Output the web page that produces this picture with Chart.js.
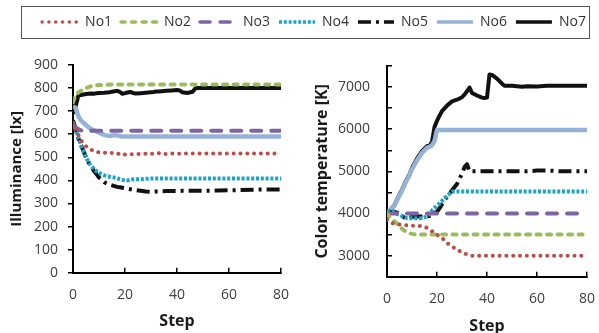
<!DOCTYPE html>
<html><head><meta charset="utf-8">
<script src="https://cdn.jsdelivr.net/npm/chart.js@4"></script>
<style>
body{margin:0;width:599px;height:333px;overflow:hidden;background:#fff;position:relative;font-family:'Open Sans',sans-serif}
canvas{position:absolute}
#lgbox{position:absolute;left:21px;top:6px;width:569px;height:33px;border:1px solid #555;box-sizing:border-box}
</style></head>
<body>
<div id="lgbox"></div>
<canvas id="lg" width="570" height="40" style="left:29px;top:6px"></canvas>
<canvas id="c1" width="300" height="293" style="left:0;top:40px"></canvas>
<canvas id="c2" width="299" height="296" style="left:300px;top:40px"></canvas>
<script>
const seriesNames = ['No1','No2','No3','No4','No5','No6','No7'];
const steps = [0,1,2,3,4,5,6,7,8,9,10,12,14,16,17,18,19,20,21,22,24,26,28,30,31,32,33,34,36,38,39,40,41,42,44,46,47,48,50,54,56,60,64,70,80];

// Illuminance [lx]
const illumNo1 = [650,625,598,575,560,548,540,533,528,524,521, 520,518,520, 518,512,510,512,512,513, 514,515,516,515, 516,518,518,514, 515,516,516,515,516,516, 516,516,516,516,516, 516,516,516,516,516,516];
const illumNo2 = [740,770,780,788,795,800,804,808,810,812,813, 814,815,815, 815,815,815,815,815,815, 815,815,815,815, 815,815,815,815, 815,815,815,815,815,815, 815,815,815,815,815, 815,815,815,815,815,815];
const illumNo3 = [640,630,622,617,615,615,615,615,615,615,615, 615,615,615, 615,615,615,615,615,615, 615,615,615,615, 615,615,615,615, 615,615,615,615,615,615, 615,615,615,615,615, 615,615,615,615,615,615];
const illumNo4 = [650,620,585,555,525,500,478,462,450,440,432, 422,416,412, 410,405,402,400,400,403, 405,405,407,408, 408,408,408,408, 408,408,408,408,408,408, 408,408,408,408,408, 408,408,408,408,408,408];
const illumNo5 = [660,625,585,555,528,500,478,458,442,428,412, 392,382,375, 372,370,368,366,364,362, 358,355,352,350, 351,352,352,353, 354,354,354,354,354,355, 355,355,355,355,355, 356,356,357,358,360,360];
const illumNo6 = [720,715,680,660,650,640,630,622,617,612,607, 597,592,596, 595,592,590,590,590,590, 590,590,590,590, 590,590,590,590, 590,590,590,590,590,590, 590,590,590,590,590, 590,590,590,590,590,590];
const illumNo7 = [690,720,765,770,772,774,775,776,775,778,779, 780,782,786, 788,784,775,778,781,783, 776,778,780,782, 783,785,785,786, 788,790,791,792,790,782, 779,784,798,800,800, 800,800,800,800,800,800];

// Color temperature [K]
const ctNo1 = [3850,3800,3770,3760,3750,3740,3730,3725,3720,3715,3710, 3705,3700,3660, 3620,3580,3540,3500,3460,3420, 3300,3220,3140,3080, 3050,3030,3010,3000, 3000,3000,3000,3000,3000,3000, 3000,3000,3000,3000,3000, 3000,3000,3000,3000,3000,3000];
const ctNo2 = [4000,3920,3870,3810,3760,3700,3640,3590,3550,3530,3515, 3505,3500,3500, 3500,3500,3500,3500,3500,3500, 3500,3500,3500,3500, 3500,3500,3500,3500, 3500,3500,3500,3500,3500,3500, 3500,3500,3500,3500,3500, 3500,3500,3500,3500,3500,3500];
const ctNo3 = [4000,4000,4000,4000,4000,4000,4000,4000,4000,4000,4000, 4000,4000,4000, 4000,4000,4000,4000,4000,4000, 4000,4000,4000,4000, 4000,4000,4000,4000, 4000,4000,4000,4000,4000,4000, 4000,4000,4000,4000,4000, 4000,4000,4000,4000,4000,4000];
const ctNo4 = [4050,4060,4050,4020,3990,3970,3940,3910,3890,3885,3885, 3885,3890,3930, 4000,4070,4130,4190,4240,4300, 4420,4520,4520,4520, 4520,4520,4520,4520, 4520,4520,4520,4520,4520,4520, 4520,4520,4520,4520,4520, 4520,4520,4520,4520,4520,4520];
const ctNo5 = [3950,4020,4040,4040,4020,3980,3940,3900,3880,3900,3920, 3930,3930,3930, 3940,3970,4010,4040,4120,4220, 4400,4550,4700,4950, 5100,5170,5000,5000, 5000,5000,5000,5000,5000,5000, 5000,5000,5000,5000,5000, 5000,5000,5020,5020,5000,5000];
const ctNo6 = [3950,4050,4120,4190,4310,4430,4540,4680,4800,4910,5050, 5260,5440,5560, 5580,5620,5720,5980,5980,5980, 5980,5980,5980,5980, 5980,5980,5980,5980, 5980,5980,5980,5980,5980,5980, 5980,5980,5980,5980,5980, 5980,5980,5980,5980,5980,5980];
const ctNo7 = [3930,4050,4130,4200,4330,4450,4560,4700,4820,4930,5080, 5300,5480,5600, 5605,5700,6050,6200,6320,6430, 6560,6660,6700,6760, 6820,6900,6990,6860, 6800,6750,6740,6750,7300,7290, 7200,7080,7030,7030,7030, 7010,7020,7015,7030,7030,7030];

const illumTicks = {min:0, max:900, step:100};
const ctTicks = {min:2500, max:7500, step:500, labelEvery:1000};
const stepTicks = {min:0, max:80, step:20};

const styles = [
  {borderColor:'#BE4B48', borderWidth:4, borderDash:[0.01,6.8], borderCapStyle:'round'},
  {borderColor:'#9BBB59', borderWidth:4, borderDash:[4,6.5], borderCapStyle:'round'},
  {borderColor:'#8064A2', borderWidth:4, borderDash:[10,10], borderCapStyle:'round'},
  {borderColor:'#1AA3CC', borderWidth:4, borderDash:[3,1.8], borderCapStyle:'butt'},
  {borderColor:'#111111', borderWidth:4, borderDash:[13,5,3,5], borderCapStyle:'butt'},
  {borderColor:'#95B3D7', borderWidth:4.5, borderDash:[], borderCapStyle:'butt'},
  {borderColor:'#111111', borderWidth:4, borderDash:[], borderCapStyle:'butt'}
];

const FONT = "'Open Sans', sans-serif";
Chart.defaults.font.family = FONT;

function makeDatasets(list){
  return list.map((vals, i) => Object.assign({
    label: seriesNames[i],
    data: steps.map((s, k) => ({x: s, y: vals[k]})),
    pointRadius: 0, tension: 0, fill: false, borderJoinStyle:'round'
  }, styles[i]));
}

function axisCommon(tl){
  return {
    border:{display:true, color:'#000', width:2},
    grid:{drawOnChartArea:false, drawTicks:true, tickLength:tl, color:'#000', lineWidth:1.5},
  };
}

function makeChart(id, datasets, yCfg, opts){
  return new Chart(document.getElementById(id), {
    type:'line',
    data:{datasets},
    options:{
      responsive:false, animation:false, devicePixelRatio:1,
      layout:{padding:opts.padding},
      plugins:{legend:{display:false}, tooltip:{enabled:false}},
      scales:{
        x:Object.assign(axisCommon(-5), {
          type:'linear', min:stepTicks.min, max:stepTicks.max,
          ticks:{stepSize:stepTicks.step, color:'#404040', font:{size:14}, padding:opts.xPad, maxRotation:0},
          title:{display:true, text:'Step', color:'#1a1a1a', font:{size:16, weight:'bold'}, padding:{top:0,bottom:opts.xTitlePad}},
          afterFit(s){ s.height = opts.xHeight; s.paddingLeft = 0; s.paddingRight = 0; }
        }),
        y:Object.assign(axisCommon(opts.yTick), {
          min:yCfg.min, max:yCfg.max,
          ticks:{stepSize:yCfg.step, color:'#404040', font:{size:14}, padding:opts.yPad,
            callback:(v)=> (yCfg.labelEvery ? (v % yCfg.labelEvery === 0 ? v : '') : v)},
          title:{display:true, text:opts.yTitle, color:'#1a1a1a', font:{size:opts.yTitleSize, weight:'bold'}, padding:{top:opts.yTitlePad,bottom:0}},
          afterFit(s){ s.width = opts.yWidth; s.paddingTop = 0; s.paddingBottom = 0; }
        })
      }
    }
  });
}

makeChart('c1', makeDatasets([illumNo1,illumNo2,illumNo3,illumNo4,illumNo5,illumNo6,illumNo7]), illumTicks, {
  padding:{left:0, top:25, right:19, bottom:0}, xPad:19, xHeight:60.3, xTitlePad:2,
  yTick:5, yPad:10, yWidth:73, yTitle:'Illuminance [lx]', yTitleSize:15, yTitlePad:8
});
makeChart('c2', makeDatasets([ctNo1,ctNo2,ctNo3,ctNo4,ctNo5,ctNo6,ctNo7]), ctTicks, {
  padding:{left:0, top:26, right:12, bottom:0}, xPad:19, xHeight:59.3, xTitlePad:0,
  yTick:-5, yPad:22, yWidth:87, yTitle:'Color temperature [K]', yTitleSize:16, yTitlePad:13
});

// legend
new Chart(document.getElementById('lg'), {
  type:'line',
  data:{datasets: makeDatasets([[],[],[],[],[],[],[]])},
  options:{
    responsive:false, animation:false, devicePixelRatio:1,
    layout:{padding:0},
    scales:{x:{display:false}, y:{display:false}},
    plugins:{tooltip:{enabled:false}, legend:{display:true, position:'top', align:'center',
      labels:{usePointStyle:true, pointStyleWidth:36, boxHeight:14, padding:9, color:'#333', font:{size:14},
        generateLabels(chart){
          return chart.data.datasets.map((ds,i)=>({
            text: ds.label, strokeStyle: ds.borderColor, fillStyle: ds.borderColor,
            lineWidth: 3.5, lineDash: ds.borderDash, lineCap: ds.borderCapStyle,
            pointStyle:'line', datasetIndex:i, hidden:false, fontColor:'#333'
          }));
        }}}}
  }
});
</script>
</body></html>
